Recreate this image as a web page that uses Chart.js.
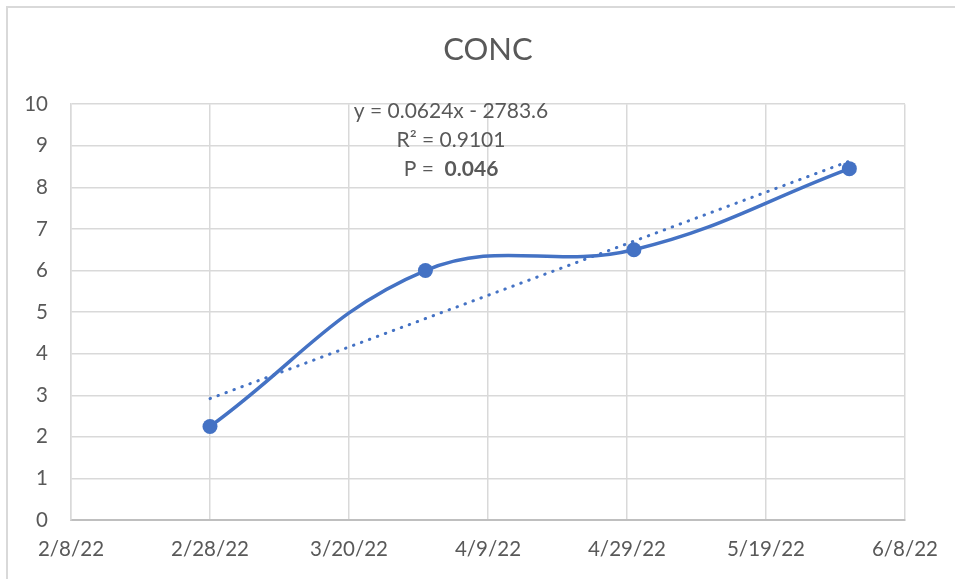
<!DOCTYPE html>
<html>
<head>
<meta charset="utf-8">
<script src="https://cdn.jsdelivr.net/npm/chart.js@4.4.0/dist/chart.umd.min.js"></script>
<style>
html, body { margin: 0; padding: 0; background: #fff; }
#wrap { width: 955px; height: 579px; position: relative; }
</style>
</head>
<body>
<div id="wrap"><canvas id="conc_chart"></canvas></div>
<script>
// values
var sampleDates = ['2/28/22', '3/31/22', '4/30/22', '5/31/22'];
var concValues = [2.25, 6.0, 6.5, 8.45];
var trendDates = ['2/28/22', '5/31/22'];
var trendValues = [2.92, 8.63];
var trendText = ['y = 0.0624x - 2783.6', 'R\u00B2 = 0.9101'];
var pText = 'P =  ';
var pValue = '0.046';
var axisStart = '2/8/22';
var axisDays = 120;
var dayStep = 20;

var textColor = '#595959';
var seriesColor = '#4472C4';

function parseDate(s) {
    var p = s.split('/').map(Number);
    return Date.UTC(2000 + p[2], p[0] - 1, p[1]);
}

function dayOffset(s) {
    return (parseDate(s) - parseDate(axisStart)) / 86400000;
}

function createData(xValues, yValues) {
    return xValues.map((x, index) => {
        return { x: dayOffset(x), y: yValues[index] };
    });
}

function formatTick(value) {
    var d = new Date(parseDate(axisStart) + value * 86400000);
    return (d.getUTCMonth() + 1) + '/' + d.getUTCDate() + '/' + (d.getUTCFullYear() % 100);
}

var framePlugin = {
    id: 'frame',
    beforeDraw: function (chart) {
        var ctx = chart.ctx;
        ctx.save();
        ctx.fillStyle = '#ffffff';
        ctx.fillRect(0, 0, chart.width, chart.height);
        ctx.strokeStyle = '#d9d9d9';
        ctx.lineWidth = 2;
        ctx.beginPath();
        ctx.moveTo(7, chart.height);
        ctx.lineTo(7, 7);
        ctx.lineTo(chart.width, 7);
        ctx.stroke();
        ctx.restore();
    }
};

var trendLabelPlugin = {
    id: 'trendLabel',
    afterDraw: function (chart) {
        var ctx = chart.ctx;
        var ca = chart.chartArea;
        var cx = ca.left + 380;
        ctx.save();
        ctx.fillStyle = textColor;
        ctx.textBaseline = 'middle';
        ctx.textAlign = 'center';
        ctx.font = '21px Lato';
        ctx.fillText(trendText[0], cx, ca.top + 7);
        ctx.fillText(trendText[1], cx, ca.top + 36);
        var w1 = ctx.measureText(pText).width;
        ctx.font = 'bold 21px Lato';
        var w2 = ctx.measureText(pValue).width;
        var x0 = cx - (w1 + w2) / 2;
        ctx.textAlign = 'left';
        ctx.font = '21px Lato';
        ctx.fillText(pText, x0, ca.top + 65);
        ctx.font = 'bold 21px Lato';
        ctx.fillText(pValue, x0 + w1, ca.top + 65);
        ctx.restore();
    }
};

var tickFont = { family: 'Lato', size: 20.5 };

var conc_plot = document.getElementById('conc_chart').getContext('2d');
var concChart = new Chart(conc_plot, {
    type: 'line',
    data: {
        datasets: [{
            label: 'Linear (CONC)',
            data: createData(trendDates, trendValues),
            borderColor: seriesColor,
            borderWidth: 3,
            borderDash: [0.5, 8],
            borderCapStyle: 'round',
            pointRadius: 0,
            tension: 0,
            fill: false
        }, {
            label: 'CONC',
            data: createData(sampleDates, concValues),
            borderColor: seriesColor,
            backgroundColor: seriesColor,
            borderWidth: 3.5,
            pointRadius: 7.5,
            pointHoverRadius: 7.5,
            pointBorderWidth: 0,
            tension: 0.4,
            fill: false
        }]
    },
    options: {
        responsive: true,
        maintainAspectRatio: false,
        animation: false,
        events: [],
        layout: {
            padding: { left: 0, right: 50, top: 0, bottom: 0 }
        },
        scales: {
            x: {
                type: 'linear',
                min: 0,
                max: axisDays,
                ticks: {
                    stepSize: dayStep,
                    callback: formatTick,
                    color: textColor,
                    font: tickFont,
                    padding: 17,
                    maxRotation: 0,
                    autoSkip: false
                },
                grid: { color: '#d9d9d9', lineWidth: 1.5, drawTicks: false },
                border: { color: '#bfbfbf', width: 2 },
                afterFit: function (scale) { scale.height = 59; }
            },
            y: {
                min: 0,
                max: 10,
                ticks: {
                    stepSize: 1,
                    color: textColor,
                    font: tickFont,
                    padding: 23
                },
                grid: { color: '#d9d9d9', lineWidth: 1.5, drawTicks: false },
                border: { color: '#d9d9d9', width: 1.5 },
                afterFit: function (scale) { scale.width = 71; }
            }
        },
        plugins: {
            legend: { display: false },
            tooltip: { enabled: false },
            title: {
                display: true,
                text: 'CONC',
                fullSize: false,
                color: textColor,
                font: { family: 'Lato', size: 31, weight: 'normal' },
                padding: { top: 31, bottom: 36 }
            }
        }
    },
    plugins: [framePlugin, trendLabelPlugin]
});
</script>
</body>
</html>
